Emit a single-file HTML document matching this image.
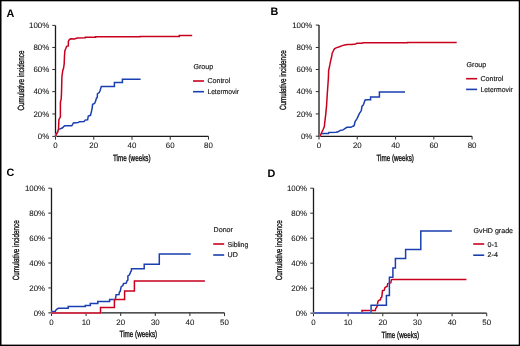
<!DOCTYPE html>
<html><head><meta charset="utf-8"><title>Cumulative incidence</title><style>
html,body{margin:0;padding:0;background:#fff;}
svg{display:block;will-change:transform;} text{text-rendering:geometricPrecision;}
.tk{font-family:"Liberation Sans",sans-serif;font-size:7.9px;fill:#111;stroke:#111;stroke-width:0.07px;}
.ti{font-family:"Liberation Sans",sans-serif;font-size:9px;fill:#111;stroke:#111;stroke-width:0.35px;}
.lg{font-family:"Liberation Sans",sans-serif;font-size:7.1px;fill:#111;stroke:#111;stroke-width:0.15px;}
.pl{font-family:"Liberation Sans",sans-serif;font-size:10.8px;font-weight:bold;fill:#000;}
</style></head><body>
<svg width="520" height="346" viewBox="0 0 520 346">
<rect x="0" y="0" width="520" height="346" fill="#fff"/>
<path d="M55.50,25.40 L55.50,136.45 L208.50,136.45" fill="none" stroke="#1a1a1a" stroke-width="1.3"/>
<line x1="52.30" y1="136.40" x2="55.50" y2="136.40" stroke="#333" stroke-width="1.05"/>
<text x="49.20" y="139.15" text-anchor="end" class="tk">0%</text>
<line x1="52.30" y1="113.95" x2="55.50" y2="113.95" stroke="#333" stroke-width="1.05"/>
<text x="49.20" y="116.70" text-anchor="end" class="tk">20%</text>
<line x1="52.30" y1="91.60" x2="55.50" y2="91.60" stroke="#333" stroke-width="1.05"/>
<text x="49.20" y="94.35" text-anchor="end" class="tk">40%</text>
<line x1="52.30" y1="69.50" x2="55.50" y2="69.50" stroke="#333" stroke-width="1.05"/>
<text x="49.20" y="72.25" text-anchor="end" class="tk">60%</text>
<line x1="52.30" y1="47.45" x2="55.50" y2="47.45" stroke="#333" stroke-width="1.05"/>
<text x="49.20" y="50.20" text-anchor="end" class="tk">80%</text>
<line x1="52.30" y1="25.40" x2="55.50" y2="25.40" stroke="#333" stroke-width="1.05"/>
<text x="49.20" y="28.15" text-anchor="end" class="tk">100%</text>
<line x1="55.50" y1="136.45" x2="55.50" y2="139.65" stroke="#333" stroke-width="1.05"/>
<text x="55.50" y="147.70" text-anchor="middle" class="tk">0</text>
<line x1="93.75" y1="136.45" x2="93.75" y2="139.65" stroke="#333" stroke-width="1.05"/>
<text x="93.75" y="147.70" text-anchor="middle" class="tk">20</text>
<line x1="132.00" y1="136.45" x2="132.00" y2="139.65" stroke="#333" stroke-width="1.05"/>
<text x="132.00" y="147.70" text-anchor="middle" class="tk">40</text>
<line x1="170.25" y1="136.45" x2="170.25" y2="139.65" stroke="#333" stroke-width="1.05"/>
<text x="170.25" y="147.70" text-anchor="middle" class="tk">60</text>
<line x1="208.50" y1="136.45" x2="208.50" y2="139.65" stroke="#333" stroke-width="1.05"/>
<text x="208.50" y="147.70" text-anchor="middle" class="tk">80</text>
<text transform="translate(23.70,110.50) rotate(-90) scale(0.7,1)" class="ti">Cumulative incidence</text>
<text transform="translate(113.00,160.50) scale(0.7,1)" class="ti">Time (weeks)</text>
<text x="6.6" y="16.9" class="pl">A</text>
<text x="193.40" y="69.00" class="lg">Group</text>
<line x1="193.00" y1="81.00" x2="204.00" y2="81.00" stroke="#c8001e" stroke-width="1.6"/>
<text x="207.40" y="83.40" class="lg">Control</text>
<line x1="193.00" y1="91.70" x2="204.00" y2="91.70" stroke="#1a3fb0" stroke-width="1.6"/>
<text transform="translate(207.40,94.00) scale(0.945,1)" class="lg">Letermovir</text>
<polyline points="55.70,136.30 56.50,134.00 58.80,129.20 60.90,128.50 62.60,127.80 63.90,126.30 64.80,125.80 71.80,125.80 73.40,123.00 78.20,122.50 79.30,121.70 84.10,121.40 85.10,120.10 87.60,119.80 88.30,116.00 90.50,115.30 92.10,108.60 92.60,104.30 94.60,103.50 95.80,100.60 96.40,98.30 97.20,97.70 97.50,93.70 99.25,92.50 100.20,90.20 101.30,86.55 114.40,86.55 114.40,82.55 122.40,82.55 122.40,79.35 140.60,79.35" fill="none" stroke="#fff" stroke-width="1.5" stroke-linejoin="miter" stroke-linecap="butt"/>
<polyline points="55.70,136.30 56.50,134.00 58.80,129.20 60.90,128.50 62.60,127.80 63.90,126.30 64.80,125.80 71.80,125.80 73.40,123.00 78.20,122.50 79.30,121.70 84.10,121.40 85.10,120.10 87.60,119.80 88.30,116.00 90.50,115.30 92.10,108.60 92.60,104.30 94.60,103.50 95.80,100.60 96.40,98.30 97.20,97.70 97.50,93.70 99.25,92.50 100.20,90.20 101.30,86.55 114.40,86.55 114.40,82.55 122.40,82.55 122.40,79.35 140.60,79.35" fill="none" stroke="#1a3fb0" stroke-width="1.5" stroke-linejoin="miter" stroke-linecap="butt"/>
<polyline points="55.70,136.30 56.50,133.70 57.60,132.40 58.00,130.60 58.50,129.30 58.70,125.00 58.90,119.70 60.40,116.80 60.40,104.00 60.40,102.40 61.20,98.90 61.50,93.10 61.90,77.00 62.75,70.50 63.60,68.00 64.20,63.60 64.50,55.80 64.90,50.65 65.80,48.50 66.65,46.30 68.35,45.90 68.35,41.50 69.20,39.80 70.70,38.70 74.40,38.90 77.30,38.00 85.30,37.80 85.30,37.15 95.60,37.15 95.60,36.85 140.20,36.85 140.20,36.45 179.30,36.45 179.30,35.50 192.20,35.50" fill="none" stroke="#fff" stroke-width="1.5" stroke-linejoin="miter" stroke-linecap="butt"/>
<polyline points="55.70,136.30 56.50,133.70 57.60,132.40 58.00,130.60 58.50,129.30 58.70,125.00 58.90,119.70 60.40,116.80 60.40,104.00 60.40,102.40 61.20,98.90 61.50,93.10 61.90,77.00 62.75,70.50 63.60,68.00 64.20,63.60 64.50,55.80 64.90,50.65 65.80,48.50 66.65,46.30 68.35,45.90 68.35,41.50 69.20,39.80 70.70,38.70 74.40,38.90 77.30,38.00 85.30,37.80 85.30,37.15 95.60,37.15 95.60,36.85 140.20,36.85 140.20,36.45 179.30,36.45 179.30,35.50 192.20,35.50" fill="none" stroke="#c8001e" stroke-width="1.5" stroke-linejoin="miter" stroke-linecap="butt"/>
<path d="M319.00,25.10 L319.00,136.30 L472.10,136.30" fill="none" stroke="#1a1a1a" stroke-width="1.3"/>
<line x1="315.80" y1="136.20" x2="319.00" y2="136.20" stroke="#333" stroke-width="1.05"/>
<text x="312.40" y="138.95" text-anchor="end" class="tk">0%</text>
<line x1="315.80" y1="113.90" x2="319.00" y2="113.90" stroke="#333" stroke-width="1.05"/>
<text x="312.40" y="116.65" text-anchor="end" class="tk">20%</text>
<line x1="315.80" y1="91.60" x2="319.00" y2="91.60" stroke="#333" stroke-width="1.05"/>
<text x="312.40" y="94.35" text-anchor="end" class="tk">40%</text>
<line x1="315.80" y1="69.50" x2="319.00" y2="69.50" stroke="#333" stroke-width="1.05"/>
<text x="312.40" y="72.25" text-anchor="end" class="tk">60%</text>
<line x1="315.80" y1="47.45" x2="319.00" y2="47.45" stroke="#333" stroke-width="1.05"/>
<text x="312.40" y="50.20" text-anchor="end" class="tk">80%</text>
<line x1="315.80" y1="25.10" x2="319.00" y2="25.10" stroke="#333" stroke-width="1.05"/>
<text x="312.40" y="27.85" text-anchor="end" class="tk">100%</text>
<line x1="319.00" y1="136.30" x2="319.00" y2="139.50" stroke="#333" stroke-width="1.05"/>
<text x="319.00" y="147.60" text-anchor="middle" class="tk">0</text>
<line x1="357.27" y1="136.30" x2="357.27" y2="139.50" stroke="#333" stroke-width="1.05"/>
<text x="357.27" y="147.60" text-anchor="middle" class="tk">20</text>
<line x1="395.55" y1="136.30" x2="395.55" y2="139.50" stroke="#333" stroke-width="1.05"/>
<text x="395.55" y="147.60" text-anchor="middle" class="tk">40</text>
<line x1="433.83" y1="136.30" x2="433.83" y2="139.50" stroke="#333" stroke-width="1.05"/>
<text x="433.83" y="147.60" text-anchor="middle" class="tk">60</text>
<line x1="472.10" y1="136.30" x2="472.10" y2="139.50" stroke="#333" stroke-width="1.05"/>
<text x="472.10" y="147.60" text-anchor="middle" class="tk">80</text>
<text transform="translate(286.10,110.10) rotate(-90) scale(0.7,1)" class="ti">Cumulative incidence</text>
<text transform="translate(376.40,160.50) scale(0.7,1)" class="ti">Time (weeks)</text>
<text x="270.4" y="14.8" class="pl">B</text>
<text x="466.50" y="66.80" class="lg">Group</text>
<line x1="466.10" y1="78.70" x2="477.10" y2="78.70" stroke="#c8001e" stroke-width="1.6"/>
<text x="480.50" y="81.00" class="lg">Control</text>
<line x1="466.10" y1="89.40" x2="477.10" y2="89.40" stroke="#1a3fb0" stroke-width="1.6"/>
<text transform="translate(480.50,91.70) scale(0.96,1)" class="lg">Letermovir</text>
<polyline points="319.40,135.90 321.60,133.90 322.85,133.50 328.50,133.50 328.90,132.50 336.00,132.30 338.10,131.80 340.20,130.40 343.10,129.90 346.80,127.30 350.90,127.30 353.00,126.20 354.10,125.70 355.10,121.50 357.20,118.40 359.30,113.70 361.35,110.60 361.90,106.40 363.40,104.90 365.00,100.20 366.20,99.80 370.60,99.80 370.60,96.90 379.40,96.90 379.40,92.10 405.00,92.10" fill="none" stroke="#fff" stroke-width="1.5" stroke-linejoin="miter" stroke-linecap="butt"/>
<polyline points="319.40,135.90 321.60,133.90 322.85,133.50 328.50,133.50 328.90,132.50 336.00,132.30 338.10,131.80 340.20,130.40 343.10,129.90 346.80,127.30 350.90,127.30 353.00,126.20 354.10,125.70 355.10,121.50 357.20,118.40 359.30,113.70 361.35,110.60 361.90,106.40 363.40,104.90 365.00,100.20 366.20,99.80 370.60,99.80 370.60,96.90 379.40,96.90 379.40,92.10 405.00,92.10" fill="none" stroke="#1a3fb0" stroke-width="1.5" stroke-linejoin="miter" stroke-linecap="butt"/>
<polyline points="319.40,136.20 320.40,135.50 321.40,133.00 322.90,130.00 324.35,126.60 324.85,121.70 325.80,113.80 326.60,105.00 327.10,96.80 327.50,90.60 328.10,82.20 328.40,78.00 328.60,70.80 330.00,64.20 330.60,60.90 331.70,56.50 332.20,53.20 333.30,51.00 334.40,48.80 336.10,47.90 339.40,46.80 342.30,45.60 344.60,44.95 347.50,44.55 351.50,44.40 355.60,44.10 356.70,43.35 361.90,43.20 363.10,42.75 407.50,42.75 407.50,42.45 456.70,42.45" fill="none" stroke="#fff" stroke-width="1.5" stroke-linejoin="miter" stroke-linecap="butt"/>
<polyline points="319.40,136.20 320.40,135.50 321.40,133.00 322.90,130.00 324.35,126.60 324.85,121.70 325.80,113.80 326.60,105.00 327.10,96.80 327.50,90.60 328.10,82.20 328.40,78.00 328.60,70.80 330.00,64.20 330.60,60.90 331.70,56.50 332.20,53.20 333.30,51.00 334.40,48.80 336.10,47.90 339.40,46.80 342.30,45.60 344.60,44.95 347.50,44.55 351.50,44.40 355.60,44.10 356.70,43.35 361.90,43.20 363.10,42.75 407.50,42.75 407.50,42.45 456.70,42.45" fill="none" stroke="#c8001e" stroke-width="1.5" stroke-linejoin="miter" stroke-linecap="butt"/>
<path d="M51.50,188.20 L51.50,312.85 L224.50,312.85" fill="none" stroke="#1a1a1a" stroke-width="1.3"/>
<line x1="48.30" y1="312.85" x2="51.50" y2="312.85" stroke="#333" stroke-width="1.05"/>
<text x="45.10" y="315.60" text-anchor="end" class="tk">0%</text>
<line x1="48.30" y1="287.92" x2="51.50" y2="287.92" stroke="#333" stroke-width="1.05"/>
<text x="45.10" y="290.67" text-anchor="end" class="tk">20%</text>
<line x1="48.30" y1="262.99" x2="51.50" y2="262.99" stroke="#333" stroke-width="1.05"/>
<text x="45.10" y="265.74" text-anchor="end" class="tk">40%</text>
<line x1="48.30" y1="238.06" x2="51.50" y2="238.06" stroke="#333" stroke-width="1.05"/>
<text x="45.10" y="240.81" text-anchor="end" class="tk">60%</text>
<line x1="48.30" y1="213.13" x2="51.50" y2="213.13" stroke="#333" stroke-width="1.05"/>
<text x="45.10" y="215.88" text-anchor="end" class="tk">80%</text>
<line x1="48.30" y1="188.20" x2="51.50" y2="188.20" stroke="#333" stroke-width="1.05"/>
<text x="45.10" y="190.95" text-anchor="end" class="tk">100%</text>
<line x1="51.50" y1="312.85" x2="51.50" y2="316.05" stroke="#333" stroke-width="1.05"/>
<text x="51.50" y="324.50" text-anchor="middle" class="tk">0</text>
<line x1="86.10" y1="312.85" x2="86.10" y2="316.05" stroke="#333" stroke-width="1.05"/>
<text x="86.10" y="324.50" text-anchor="middle" class="tk">10</text>
<line x1="120.70" y1="312.85" x2="120.70" y2="316.05" stroke="#333" stroke-width="1.05"/>
<text x="120.70" y="324.50" text-anchor="middle" class="tk">20</text>
<line x1="155.30" y1="312.85" x2="155.30" y2="316.05" stroke="#333" stroke-width="1.05"/>
<text x="155.30" y="324.50" text-anchor="middle" class="tk">30</text>
<line x1="189.90" y1="312.85" x2="189.90" y2="316.05" stroke="#333" stroke-width="1.05"/>
<text x="189.90" y="324.50" text-anchor="middle" class="tk">40</text>
<line x1="224.50" y1="312.85" x2="224.50" y2="316.05" stroke="#333" stroke-width="1.05"/>
<text x="224.50" y="324.50" text-anchor="middle" class="tk">50</text>
<text transform="translate(19.20,280.20) rotate(-90) scale(0.7,1)" class="ti">Cumulative incidence</text>
<text transform="translate(119.60,337.30) scale(0.7,1)" class="ti">Time (weeks)</text>
<text x="6.4" y="176.0" class="pl">C</text>
<text x="213.60" y="232.40" class="lg">Donor</text>
<line x1="213.20" y1="244.00" x2="224.20" y2="244.00" stroke="#c8001e" stroke-width="1.6"/>
<text transform="translate(227.60,246.50) scale(0.97,1)" class="lg">Sibling</text>
<line x1="213.20" y1="255.00" x2="224.20" y2="255.00" stroke="#1a3fb0" stroke-width="1.6"/>
<text x="227.60" y="257.30" class="lg">UD</text>
<polyline points="51.50,311.50 55.20,311.50 55.80,310.20 57.50,308.70 58.40,308.30 68.20,308.30 68.20,306.60 85.30,306.60 85.30,305.60 90.30,305.60 90.30,303.50 97.80,303.50 97.80,301.60 109.60,301.60 109.60,299.50 115.30,299.50 115.60,298.00 116.10,294.70 119.00,294.50 119.40,292.20 120.20,291.30 120.80,288.50 121.20,286.70 122.90,285.50 123.50,283.50 126.10,283.20 127.00,281.00 127.90,280.00 127.90,276.00 129.30,275.00 130.20,273.10 130.60,271.90 131.40,270.80 131.50,268.70 144.20,268.70 144.20,264.20 159.30,264.20 159.30,254.10 190.75,254.10 190.75,254.10" fill="none" stroke="#fff" stroke-width="1.5" stroke-linejoin="miter" stroke-linecap="butt"/>
<polyline points="51.50,311.50 55.20,311.50 55.80,310.20 57.50,308.70 58.40,308.30 68.20,308.30 68.20,306.60 85.30,306.60 85.30,305.60 90.30,305.60 90.30,303.50 97.80,303.50 97.80,301.60 109.60,301.60 109.60,299.50 115.30,299.50 115.60,298.00 116.10,294.70 119.00,294.50 119.40,292.20 120.20,291.30 120.80,288.50 121.20,286.70 122.90,285.50 123.50,283.50 126.10,283.20 127.00,281.00 127.90,280.00 127.90,276.00 129.30,275.00 130.20,273.10 130.60,271.90 131.40,270.80 131.50,268.70 144.20,268.70 144.20,264.20 159.30,264.20 159.30,254.10 190.75,254.10 190.75,254.10" fill="none" stroke="#1a3fb0" stroke-width="1.5" stroke-linejoin="miter" stroke-linecap="butt"/>
<polyline points="51.50,313.00 100.50,313.00 100.50,307.40 114.40,307.40 114.40,299.50 124.60,299.50 124.60,290.90 134.40,290.90 134.40,281.10 204.90,281.10 204.90,281.10" fill="none" stroke="#fff" stroke-width="1.5" stroke-linejoin="miter" stroke-linecap="butt"/>
<polyline points="51.50,313.00 100.50,313.00 100.50,307.40 114.40,307.40 114.40,299.50 124.60,299.50 124.60,290.90 134.40,290.90 134.40,281.10 204.90,281.10 204.90,281.10" fill="none" stroke="#c8001e" stroke-width="1.5" stroke-linejoin="miter" stroke-linecap="butt"/>
<path d="M313.50,188.20 L313.50,313.15 L486.70,313.15" fill="none" stroke="#1a1a1a" stroke-width="1.3"/>
<line x1="310.30" y1="313.15" x2="313.50" y2="313.15" stroke="#333" stroke-width="1.05"/>
<text x="307.10" y="315.90" text-anchor="end" class="tk">0%</text>
<line x1="310.30" y1="288.16" x2="313.50" y2="288.16" stroke="#333" stroke-width="1.05"/>
<text x="307.10" y="290.91" text-anchor="end" class="tk">20%</text>
<line x1="310.30" y1="263.17" x2="313.50" y2="263.17" stroke="#333" stroke-width="1.05"/>
<text x="307.10" y="265.92" text-anchor="end" class="tk">40%</text>
<line x1="310.30" y1="238.18" x2="313.50" y2="238.18" stroke="#333" stroke-width="1.05"/>
<text x="307.10" y="240.93" text-anchor="end" class="tk">60%</text>
<line x1="310.30" y1="213.19" x2="313.50" y2="213.19" stroke="#333" stroke-width="1.05"/>
<text x="307.10" y="215.94" text-anchor="end" class="tk">80%</text>
<line x1="310.30" y1="188.20" x2="313.50" y2="188.20" stroke="#333" stroke-width="1.05"/>
<text x="307.10" y="190.95" text-anchor="end" class="tk">100%</text>
<line x1="313.50" y1="313.15" x2="313.50" y2="316.35" stroke="#333" stroke-width="1.05"/>
<text x="313.50" y="324.80" text-anchor="middle" class="tk">0</text>
<line x1="348.14" y1="313.15" x2="348.14" y2="316.35" stroke="#333" stroke-width="1.05"/>
<text x="348.14" y="324.80" text-anchor="middle" class="tk">10</text>
<line x1="382.78" y1="313.15" x2="382.78" y2="316.35" stroke="#333" stroke-width="1.05"/>
<text x="382.78" y="324.80" text-anchor="middle" class="tk">20</text>
<line x1="417.42" y1="313.15" x2="417.42" y2="316.35" stroke="#333" stroke-width="1.05"/>
<text x="417.42" y="324.80" text-anchor="middle" class="tk">30</text>
<line x1="452.06" y1="313.15" x2="452.06" y2="316.35" stroke="#333" stroke-width="1.05"/>
<text x="452.06" y="324.80" text-anchor="middle" class="tk">40</text>
<line x1="486.70" y1="313.15" x2="486.70" y2="316.35" stroke="#333" stroke-width="1.05"/>
<text x="486.70" y="324.80" text-anchor="middle" class="tk">50</text>
<text transform="translate(281.60,280.20) rotate(-90) scale(0.7,1)" class="ti">Cumulative incidence</text>
<text transform="translate(381.60,337.50) scale(0.7,1)" class="ti">Time (weeks)</text>
<text x="267.6" y="176.9" class="pl">D</text>
<text x="473.60" y="232.60" class="lg">GvHD grade</text>
<line x1="473.20" y1="244.00" x2="484.20" y2="244.00" stroke="#c8001e" stroke-width="1.6"/>
<text x="487.60" y="246.90" class="lg">0-1</text>
<line x1="473.20" y1="255.20" x2="484.20" y2="255.20" stroke="#1a3fb0" stroke-width="1.6"/>
<text x="487.60" y="257.30" class="lg">2-4</text>
<polyline points="313.50,313.10 362.00,313.10 362.00,310.40 375.30,310.40 375.80,308.40 376.60,307.40 377.40,305.80 377.60,303.20 378.10,301.10 378.90,300.30 380.40,299.80 380.90,297.70 381.70,297.20 382.20,293.80 382.50,290.70 384.30,290.20 384.90,287.60 385.60,287.10 387.20,286.50 387.70,283.70 388.80,283.20 390.80,282.90 391.40,279.80 392.40,279.45 466.40,279.45" fill="none" stroke="#fff" stroke-width="1.5" stroke-linejoin="miter" stroke-linecap="butt"/>
<polyline points="313.50,313.10 362.00,313.10 362.00,310.40 375.30,310.40 375.80,308.40 376.60,307.40 377.40,305.80 377.60,303.20 378.10,301.10 378.90,300.30 380.40,299.80 380.90,297.70 381.70,297.20 382.20,293.80 382.50,290.70 384.30,290.20 384.90,287.60 385.60,287.10 387.20,286.50 387.70,283.70 388.80,283.20 390.80,282.90 391.40,279.80 392.40,279.45 466.40,279.45" fill="none" stroke="#c8001e" stroke-width="1.5" stroke-linejoin="miter" stroke-linecap="butt"/>
<polyline points="313.50,313.10 371.10,313.10 371.10,305.30 386.40,305.30 386.40,295.60 389.40,295.60 389.40,277.20 392.90,277.20 392.90,267.90 395.40,267.90 395.40,258.50 405.60,258.50 405.60,249.50 420.80,249.50 420.80,231.00 451.90,231.00 451.90,231.00" fill="none" stroke="#fff" stroke-width="1.5" stroke-linejoin="miter" stroke-linecap="butt"/>
<polyline points="313.50,313.10 371.10,313.10 371.10,305.30 386.40,305.30 386.40,295.60 389.40,295.60 389.40,277.20 392.90,277.20 392.90,267.90 395.40,267.90 395.40,258.50 405.60,258.50 405.60,249.50 420.80,249.50 420.80,231.00 451.90,231.00 451.90,231.00" fill="none" stroke="#1a3fb0" stroke-width="1.5" stroke-linejoin="miter" stroke-linecap="butt"/>
<rect x="0" y="0" width="520" height="1.3" fill="#000"/>
<rect x="0" y="0" width="1.5" height="346" fill="#000"/>
<rect x="518.75" y="0" width="1.25" height="346" fill="#000"/>
<rect x="0" y="344.6" width="520" height="1.4" fill="#000"/>
</svg>
</body></html>
